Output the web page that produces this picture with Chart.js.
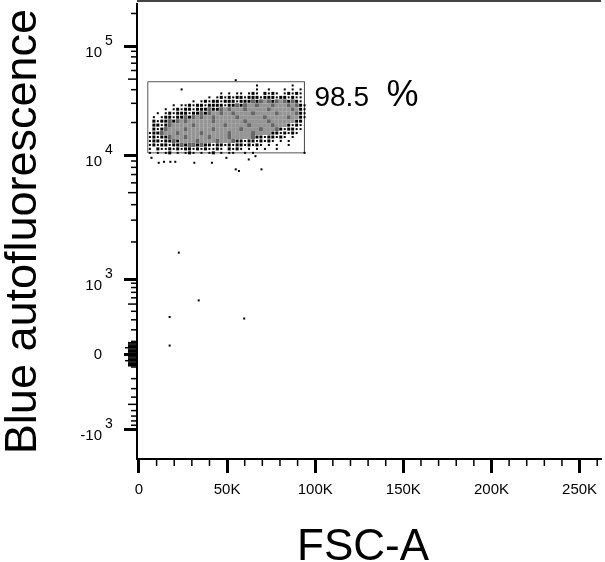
<!DOCTYPE html>
<html>
<head>
<meta charset="utf-8">
<script src="https://cdn.jsdelivr.net/npm/chart.js@4.4.1/dist/chart.umd.min.js"></script>
<style>
  html, body { margin: 0; padding: 0; background: #fff; overflow: hidden; }
  canvas { display: block; }
</style>
</head>
<body>
<canvas id="plot" width="605" height="562"></canvas>
<script>
// FSC-A centre of each column of the dot-density grid
const popX = [6200, 8450, 10700, 12950, 15200, 17450, 19700, 21950, 24200, 26450,
  28700, 30950, 33200, 35450, 37700, 39950, 42200, 44450, 46700, 48950,
  51200, 53450, 55700, 57950, 60200, 62450, 64700, 66950, 69200, 71450,
  73700, 75950, 78200, 80450, 82700, 84950, 87200, 89450, 91700, 93950];
// Blue autofluorescence centre of each row
const popY = [43740, 40230, 37010, 34030, 31300, 28790, 26470, 24350, 22390, 20590,
  18940, 17410, 16020, 14730, 13550, 12460, 11460, 10540];
// density: ' ' none, '.' few, ':' many, '%' dense, '#' densest
const popRows = [
  "                           .        .   ",
  "        .                  .  .   . . . ",
  "                  . . .. .:. :.:. .:.:. ",
  "               . .:.:.::.:::.:::.::.:.. ",
  "           . .:.::.:::.:::%:%#%:%#%:%:. ",
  "      . ..:.::.::::.::%:%##%###%###%#%:.",
  "    . .:.::.:::%::%#%###%#####%#####%#:.",
  "  . .:.:::.::%:%##%##%####%#####%####%:.",
  " . .::.::%:%#%##%#####%######%#####%##:.",
  " :.::%:%#%######%#######%#####%######:: ",
  " ::.:%#####%#######%#####%#####%###:.:. ",
  " :.:%####%######%######%####%###%:.::.. ",
  ".::%###%#####%######%#####%####::.:.:.  ",
  ".:.::%###%#####%####%#####%::.::.:. .   ",
  ".::.::%:####%####%###%::.::.:.:. . .    ",
  ".:.::.::%:%%:%::.::.:.::.:.:. . .  .    ",
  ". :..:.:.::.:.:..:. :.:. . . .  .       ",
  ". . .: . .:. . .: . ..  . .            ."
];
// single events outside the grid
const outX = [7100, 11200, 14200, 17800, 20600, 31400, 41400, 49600, 54900, 56700,
  66100, 69500, 62300, 54900, 22600, 33900, 17400, 59700, 17400];
const outY = [9550, 8710, 8870, 8870, 8870, 8710, 8710, 9550, 7710, 7480,
  9850, 7710, 9260, 48870, 1640, 557, 331, 314, 67];

const gateX = [5000, 93900];
const gateY = [10540, 47300];
const gatePercent = '98.5';

const xTicks = [0, 50000, 100000, 150000, 200000, 250000];
const xTickLabels = ['0', '50K', '100K', '150K', '200K', '250K'];
const yTicks = [-1000, 0, 1000, 10000, 100000];
const yTickBase = ['-10', '0', '10', '10', '10'];
const yTickExp = ['3', '', '3', '4', '5'];

const FONT = 'Liberation Sans';

// biexponential display transform (linear-ish near zero, log above 10^3)
function biex(v) {
  const a = Math.abs(v), s = v < 0 ? -1 : 1;
  let t;
  if (a < 1000) t = 75.6 * Math.asinh(a / 300) / Math.asinh(1000 / 300);
  else if (a < 10000) t = 75.6 + 125 * Math.log10(a / 1000);
  else t = 200.6 + 110 * Math.log10(a / 10000);
  return s * t;
}

class BiexScale extends Chart.LinearScale {
  static id = 'biex';
  configure() {
    super.configure();
    this._t0 = biex(this.min);
    this._t1 = biex(this.max);
  }
  getPixelForValue(v) {
    return this.getPixelForDecimal((biex(v) - this._t0) / (this._t1 - this._t0));
  }
}
Chart.register(BiexScale);

const levelStyle = {
  '#': { color: '#959595', r: 2.83 },
  '%': { color: '#666666', r: 2.83 },
  ':': { color: '#000', r: 2.12 },
  '.': { color: '#000', r: 1.42 }
};

const cells = { '#': [], '%': [], ':': [], '.': [] };
popRows.forEach((row, j) => {
  [...row].forEach((c, i) => {
    if (cells[c]) cells[c].push({ x: popX[i], y: popY[j] });
  });
});

const datasets = Object.keys(cells).map(k => ({
  data: cells[k],
  pointStyle: 'rect',
  pointRadius: levelStyle[k].r,
  backgroundColor: levelStyle[k].color,
  borderWidth: 0
}));

datasets.push({
  data: outX.map((x, i) => ({ x, y: outY[i] })),
  pointStyle: 'rect',
  pointRadius: 1.42,
  backgroundColor: '#000',
  borderWidth: 0
});

datasets.push({
  data: [
    { x: gateX[0], y: gateY[0] }, { x: gateX[0], y: gateY[1] },
    { x: gateX[1], y: gateY[1] }, { x: gateX[1], y: gateY[0] },
    { x: gateX[0], y: gateY[0] }
  ],
  showLine: true,
  borderColor: '#555',
  borderWidth: 1,
  pointRadius: 0,
  fill: false
});

// minor tick positions for both axes
const yMinor = [];
[10, 100, 1000, 10000].forEach(d => {
  for (let k = 1; k <= 9; k++) {
    if (k === 1 && d >= 1000) continue;
    yMinor.push(k * d, -k * d);
  }
});
yMinor.push(200000);
const xMinor = [];
for (let v = 10000; v < 262144; v += 10000) if (v % 50000) xMinor.push(v);

const facsAxes = {
  id: 'facsAxes',
  afterDraw(chart) {
    const { ctx, chartArea: area, scales: { x, y } } = chart;
    ctx.save();
    ctx.fillStyle = '#444';
    ctx.fillRect(area.left, 0, area.right - area.left, 2);

    ctx.fillStyle = '#000';
    yMinor.forEach(v => {
      if (v < y.min || v > y.max) return;
      const p = y.getPixelForValue(v);
      const a = Math.abs(v);
      const m = a / 10 ** Math.floor(Math.log10(a));
      let len = m === 5 ? 9 : 6;
      if (a < 100) len = m === 5 ? 12 : 9;
      ctx.fillRect(area.left - len, p - 0.75, len, 1.5);
    });
    yTicks.forEach(v => {
      const p = y.getPixelForValue(v);
      ctx.fillRect(area.left - 13, Math.round(p - 1.5), 13, 3);
    });

    xMinor.forEach(v => {
      const p = x.getPixelForValue(v);
      ctx.fillRect(p - 0.75, area.bottom, 1.5, 7);
    });
    xTicks.forEach(v => {
      const p = x.getPixelForValue(v);
      ctx.fillRect(Math.round(p - 1.5), area.bottom, 3, 14);
    });

    // y tick labels with raised exponent
    yTicks.forEach((v, i) => {
      const p = y.getPixelForValue(v);
      ctx.textAlign = 'right';
      ctx.font = '15px "' + FONT + '"';
      if (yTickExp[i]) {
        ctx.textBaseline = 'alphabetic';
        ctx.fillText(yTickBase[i], 102, p + 11);
        ctx.textAlign = 'left';
        ctx.font = '14px "' + FONT + '"';
        ctx.fillText(yTickExp[i], 105, p - 1);
      } else {
        ctx.textBaseline = 'middle';
        ctx.fillText(yTickBase[i], 102, p + 0.5);
      }
    });

    // x axis title
    ctx.textAlign = 'center';
    ctx.textBaseline = 'alphabetic';
    ctx.font = '44px "' + FONT + '"';
    ctx.fillText('FSC-A', 363, 560);

    // gate frequency
    const gx = x.getPixelForValue(gateX[1]);
    const gy = y.getPixelForValue(gateY[1]);
    ctx.textAlign = 'left';
    ctx.font = '28px "' + FONT + '"';
    ctx.fillText(gatePercent, gx + 10, gy + 24.5);
    ctx.font = '36px "' + FONT + '"';
    ctx.fillText('%', gx + 82, gy + 24.5);
    ctx.restore();
  }
};

new Chart(document.getElementById('plot'), {
  type: 'scatter',
  data: { datasets },
  options: {
    responsive: false,
    animation: false,
    devicePixelRatio: 1,
    layout: { padding: 0 },
    plugins: { legend: { display: false }, tooltip: { enabled: false } },
    scales: {
      x: {
        type: 'linear',
        min: -1120,
        max: 262144,
        afterBuildTicks: s => { s.ticks = xTicks.map(v => ({ value: v })); },
        afterFit: s => { s.height = 103; s.paddingLeft = 0; s.paddingRight = 0; },
        grid: { display: false, drawTicks: false },
        border: { display: true, color: '#000', width: 2 },
        ticks: {
          color: '#000',
          font: { family: FONT, size: 15 },
          padding: 22,
          maxRotation: 0,
          autoSkip: false,
          callback: (v, i) => xTickLabels[i]
        },
        title: { display: false }
      },
      y: {
        type: 'biex',
        min: -1741,
        max: 244300,
        afterFit: s => { s.width = 137; s.paddingTop = 0; s.paddingBottom = 0; },
        grid: { display: false, drawTicks: false },
        border: { display: true, color: '#000', width: 2 },
        ticks: { display: false },
        title: {
          display: true,
          text: 'Blue autofluorescence',
          color: '#000',
          font: { family: FONT, size: 45, lineHeight: 1.07 },
          padding: 0
        }
      }
    }
  },
  plugins: [facsAxes]
});
</script>
</body>
</html>
